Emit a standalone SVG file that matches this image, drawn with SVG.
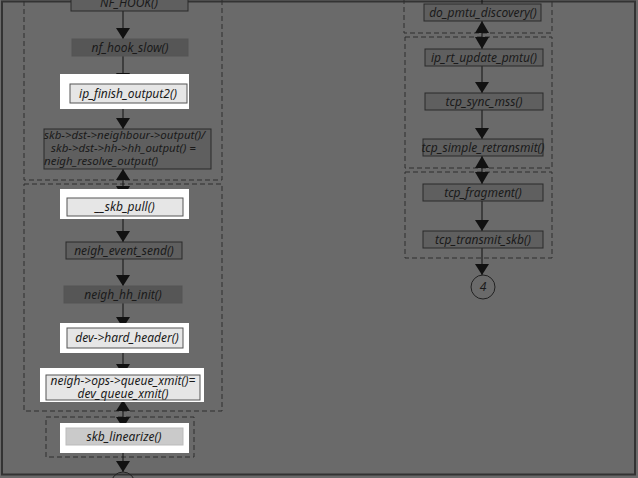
<svg xmlns="http://www.w3.org/2000/svg" width="638" height="478" viewBox="0 0 638 478">
<defs>
<style>
.bg{fill:#6a6a6a}
.frame{fill:none;stroke:#333;stroke-width:2}
.grp{fill:none;stroke:#2e2e2e;stroke-width:1;stroke-dasharray:5,3}
.dk{fill:#5f5f5f;stroke:#2a2a2a;stroke-width:1}
.dk2{fill:#565656;stroke:#555;stroke-width:1}
.hl{fill:#ffffff}
.lt{fill:#e6e6e6;stroke:#555;stroke-width:1}
.lt2{fill:#cacaca;stroke:#bbb;stroke-width:1}
.t{font-family:"Noto Sans","DejaVu Sans",sans-serif;font-style:italic;font-size:12px;fill:#1a1a1a;text-anchor:middle}
.tl{font-family:"Noto Sans","DejaVu Sans",sans-serif;font-style:italic;font-size:11.5px;fill:#1a1a1a}
.ln{stroke:#111;stroke-width:1;fill:none}
.ah{fill:#111}
.circ{fill:none;stroke:#222;stroke-width:1}
</style>
</defs>
<rect class="bg" x="0" y="0" width="638" height="478"/>
<rect class="frame" x="2" y="1.5" width="633" height="473"/>

<!-- group boxes -->
<rect class="grp" x="24" y="-10" width="198" height="190"/>
<rect class="grp" x="24" y="184" width="198" height="227"/>
<rect class="grp" x="46" y="417" width="148" height="40"/>
<rect class="grp" x="404" y="-10" width="148" height="43"/>
<rect class="grp" x="405" y="37" width="147" height="131"/>
<rect class="grp" x="405" y="172" width="147" height="86"/>

<g id="connectors">
<line class="ln" x1="123" y1="11" x2="123" y2="39"/>
<polygon class="ah" points="116,28 130,28 123,39"/>
<line class="ln" x1="123" y1="56" x2="123" y2="84"/>
<polygon class="ah" points="116,73 130,73 123,84"/>
<line class="ln" x1="123" y1="103" x2="123" y2="129"/>
<polygon class="ah" points="116,118 130,118 123,129"/>
<line class="ln" x1="123" y1="169" x2="123" y2="198"/>
<polygon class="ah" points="116,180 130,180 123,169"/>
<polygon class="ah" points="116,186 130,186 123,198"/>
<line class="ln" x1="123" y1="216" x2="123" y2="242"/>
<polygon class="ah" points="116,231 130,231 123,242"/>
<line class="ln" x1="123" y1="259" x2="123" y2="286"/>
<polygon class="ah" points="116,275 130,275 123,286"/>
<line class="ln" x1="123" y1="303" x2="123" y2="328"/>
<polygon class="ah" points="116,317 130,317 123,328"/>
<line class="ln" x1="123" y1="348" x2="123" y2="375"/>
<polygon class="ah" points="116,364 130,364 123,375"/>
<line class="ln" x1="123" y1="400" x2="123" y2="428"/>
<polygon class="ah" points="116,411 130,411 123,400"/>
<polygon class="ah" points="116,417 130,417 123,428"/>
<line class="ln" x1="123" y1="445" x2="123" y2="472"/>
<polygon class="ah" points="116,461 130,461 123,472"/>

<line class="ln" x1="482" y1="0" x2="482" y2="4"/>
<line class="ln" x1="482" y1="21" x2="482" y2="49"/>
<polygon class="ah" points="475,33 489,33 482,21"/>
<polygon class="ah" points="475,37 489,37 482,49"/>
<line class="ln" x1="482" y1="66" x2="482" y2="93"/>
<polygon class="ah" points="475,82 489,82 482,93"/>
<line class="ln" x1="482" y1="110" x2="482" y2="139"/>
<polygon class="ah" points="475,128 489,128 482,139"/>
<line class="ln" x1="482" y1="156" x2="482" y2="184"/>
<polygon class="ah" points="475,168 489,168 482,156"/>
<polygon class="ah" points="475,172 489,172 482,184"/>
<line class="ln" x1="482" y1="201" x2="482" y2="231"/>
<polygon class="ah" points="475,220 489,220 482,231"/>
<line class="ln" x1="482" y1="248" x2="482" y2="275"/>
<polygon class="ah" points="475,264 489,264 482,275"/>
</g>

<g id="nf_hook">
<rect class="dk" x="71" y="-8" width="117" height="19"/>
<text class="t" x="129" y="7">NF_HOOK()</text>
</g>
<g id="nf_hook_slow">
<rect class="dk2" x="72" y="39" width="116" height="17"/>
<text class="t" x="130" y="52">nf_hook_slow()</text>
</g>
<g id="ip_finish_output2">
<rect class="hl" x="60" y="74" width="129" height="35"/>
<rect class="lt" x="70" y="84" width="117" height="19"/>
<text class="t" x="128" y="98">ip_finish_output2()</text>
</g>
<g id="neigh_output">
<rect class="dk" x="44" y="129" width="167" height="40"/>
<text class="tl" x="44" y="139">skb-&gt;dst-&gt;neighbour-&gt;output()/</text>
<text class="tl" x="51" y="152">skb-&gt;dst-&gt;hh-&gt;hh_output() =</text>
<text class="tl" x="44" y="165">neigh_resolve_output()</text>
</g>
<g id="skb_pull">
<rect class="hl" x="60" y="189" width="129" height="30"/>
<rect class="lt" x="67" y="198" width="116" height="18"/>
<text class="t" x="125" y="211">__skb_pull()</text>
</g>
<g id="neigh_event_send">
<rect class="dk" x="66" y="242" width="116" height="17"/>
<text class="t" x="124" y="255">neigh_event_send()</text>
</g>
<g id="neigh_hh_init">
<rect class="dk2" x="64" y="286" width="118" height="17"/>
<text class="t" x="123" y="299">neigh_hh_init()</text>
</g>
<g id="hard_header">
<rect class="hl" x="60" y="323" width="129" height="30"/>
<rect class="lt" x="67" y="328" width="116" height="20"/>
<text class="t" x="127" y="342">dev-&gt;hard_header()</text>
</g>
<g id="queue_xmit">
<rect class="hl" x="40" y="368" width="164" height="34"/>
<rect class="lt" x="46" y="375" width="154" height="25"/>
<text class="t" x="123" y="385">neigh-&gt;ops-&gt;queue_xmit()=</text>
<text class="t" x="123" y="398">dev_queue_xmit()</text>
</g>
<g id="skb_linearize">
<rect class="hl" x="60" y="423" width="129" height="30"/>
<rect class="lt2" x="66" y="428" width="117" height="17"/>
<text class="t" x="124" y="441">skb_linearize()</text>
</g>
<g id="circle_left">
<circle class="circ" cx="123" cy="484" r="12"/>
</g>

<g id="do_pmtu_discovery">
<rect class="dk" x="424" y="4" width="117" height="17"/>
<text class="t" x="483" y="17">do_pmtu_discovery()</text>
</g>
<g id="ip_rt_update_pmtu">
<rect class="dk" x="425" y="49" width="118" height="17"/>
<text class="t" x="484" y="62">ip_rt_update_pmtu()</text>
</g>
<g id="tcp_sync_mss">
<rect class="dk" x="425" y="93" width="118" height="17"/>
<text class="t" x="484" y="106">tcp_sync_mss()</text>
</g>
<g id="tcp_simple_retransmit">
<rect class="dk" x="423" y="139" width="120" height="17"/>
<text class="t" x="483" y="152">tcp_simple_retransmit()</text>
</g>
<g id="tcp_fragment">
<rect class="dk" x="423" y="184" width="120" height="17"/>
<text class="t" x="483" y="197">tcp_fragment()</text>
</g>
<g id="tcp_transmit_skb">
<rect class="dk" x="423" y="231" width="120" height="17"/>
<text class="t" x="483" y="244">tcp_transmit_skb()</text>
</g>
<g id="circle_4">
<circle class="circ" cx="483" cy="287" r="12"/>
<text class="t" x="483" y="291">4</text>
</g>
</svg>
